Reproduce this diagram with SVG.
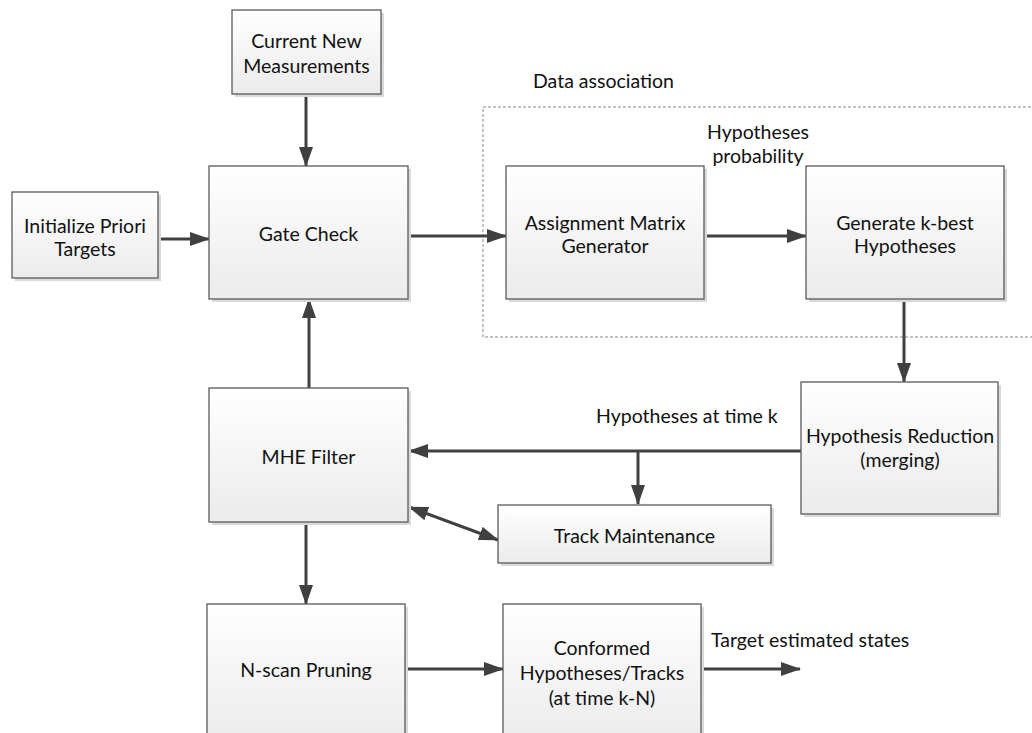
<svg xmlns="http://www.w3.org/2000/svg" width="1032" height="733" viewBox="0 0 1032 733">
<defs>
<linearGradient id="g" x1="0" y1="0" x2="0" y2="1">
<stop offset="0" stop-color="#ffffff"/>
<stop offset="1" stop-color="#ebebeb"/>
</linearGradient>
<marker id="ah" markerUnits="userSpaceOnUse" markerWidth="20" markerHeight="14" refX="19" refY="7" orient="auto-start-reverse">
<path d="M0,0 L20,7 L0,14 z" fill="#404040"/>
</marker>
<style>
.box{fill:url(#g);stroke:#5a5a5a;stroke-width:1.3}
.sh{fill:#d9d9d9}
.t{font-family:Lato,"Liberation Sans",sans-serif;font-size:19.5px;fill:#111;text-anchor:middle;dominant-baseline:central}
.l{font-family:Lato,"Liberation Sans",sans-serif;font-size:19.5px;fill:#111;dominant-baseline:central}
.c{stroke:#404040;stroke-width:3;fill:none}
</style>
</defs>
<rect width="1032" height="733" fill="#fff"/>

<g id="data-association">
<rect x="483" y="107" width="560" height="230" fill="none" stroke="#8a8a8a" stroke-width="1" stroke-dasharray="3,2"/>
<text class="l" x="533" y="80">Data association</text>
<text class="t" x="758" y="131">Hypotheses</text>
<text class="t" x="758" y="155">probability</text>
</g>

<g id="connectors">
<line class="c" x1="306" y1="94" x2="306" y2="166" marker-end="url(#ah)"/>
<line class="c" x1="158" y1="239" x2="209" y2="239" marker-end="url(#ah)"/>
<line class="c" x1="408" y1="236" x2="506" y2="236" marker-end="url(#ah)"/>
<line class="c" x1="704" y1="236" x2="806" y2="236" marker-end="url(#ah)"/>
<line class="c" x1="904" y1="299" x2="904" y2="382" marker-end="url(#ah)"/>
<line class="c" x1="801" y1="451" x2="409" y2="451" marker-end="url(#ah)"/>
<line class="c" x1="638" y1="451" x2="638" y2="504" marker-end="url(#ah)"/>
<line class="c" x1="309" y1="388" x2="309" y2="299" marker-end="url(#ah)"/>
<line class="c" x1="409" y1="507" x2="498" y2="540" marker-start="url(#ah)" marker-end="url(#ah)"/>
<line class="c" x1="306" y1="522" x2="306" y2="604" marker-end="url(#ah)"/>
<line class="c" x1="405" y1="669" x2="503" y2="669" marker-end="url(#ah)"/>
<line class="c" x1="701" y1="669" x2="800" y2="669" marker-end="url(#ah)"/>
<text class="l" x="596" y="415">Hypotheses at time k</text>
<text class="l" x="711" y="639">Target estimated states</text>
</g>

<g id="current-new-measurements">
<rect class="sh" x="235" y="13" width="149" height="84"/>
<rect class="box" x="232" y="10" width="149" height="84"/>
<text class="t" x="306.5" y="40">Current New</text>
<text class="t" x="306.5" y="65">Measurements</text>
</g>

<g id="initialize-priori-targets">
<rect class="sh" x="15" y="195" width="146" height="86"/>
<rect class="box" x="12" y="192" width="146" height="86"/>
<text class="t" x="85" y="225">Initialize Priori</text>
<text class="t" x="85" y="248">Targets</text>
</g>

<g id="gate-check">
<rect class="sh" x="212" y="169" width="199" height="133"/>
<rect class="box" x="209" y="166" width="199" height="133"/>
<text class="t" x="308.5" y="233">Gate Check</text>
</g>

<g id="assignment-matrix-generator">
<rect class="sh" x="509" y="169" width="198" height="133"/>
<rect class="box" x="506" y="166" width="198" height="133"/>
<text class="t" x="605" y="222">Assignment Matrix</text>
<text class="t" x="605" y="245">Generator</text>
</g>

<g id="generate-k-best">
<rect class="sh" x="809" y="169" width="198" height="133"/>
<rect class="box" x="806" y="166" width="198" height="133"/>
<text class="t" x="905" y="222">Generate k-best</text>
<text class="t" x="905" y="245">Hypotheses</text>
</g>

<g id="hypothesis-reduction">
<rect class="sh" x="804" y="385" width="197" height="132"/>
<rect class="box" x="801" y="382" width="197" height="132"/>
<text class="t" x="900" y="435">Hypothesis Reduction</text>
<text class="t" x="900" y="459">(merging)</text>
</g>

<g id="mhe-filter">
<rect class="sh" x="212" y="391" width="199" height="134"/>
<rect class="box" x="209" y="388" width="199" height="134"/>
<text class="t" x="308.5" y="456">MHE Filter</text>
</g>

<g id="track-maintenance">
<rect class="sh" x="501" y="508" width="273" height="58"/>
<rect class="box" x="498" y="505" width="273" height="58"/>
<text class="t" x="634.5" y="535">Track Maintenance</text>
</g>

<g id="n-scan-pruning">
<rect class="sh" x="210" y="607" width="198" height="140"/>
<rect class="box" x="207" y="604" width="198" height="140"/>
<text class="t" x="306" y="669">N-scan Pruning</text>
</g>

<g id="conformed-hypotheses">
<rect class="sh" x="506" y="607" width="198" height="140"/>
<rect class="box" x="503" y="604" width="198" height="140"/>
<text class="t" x="602" y="647">Conformed</text>
<text class="t" x="602" y="672">Hypotheses/Tracks</text>
<text class="t" x="602" y="697">(at time k-N)</text>
</g>
</svg>
